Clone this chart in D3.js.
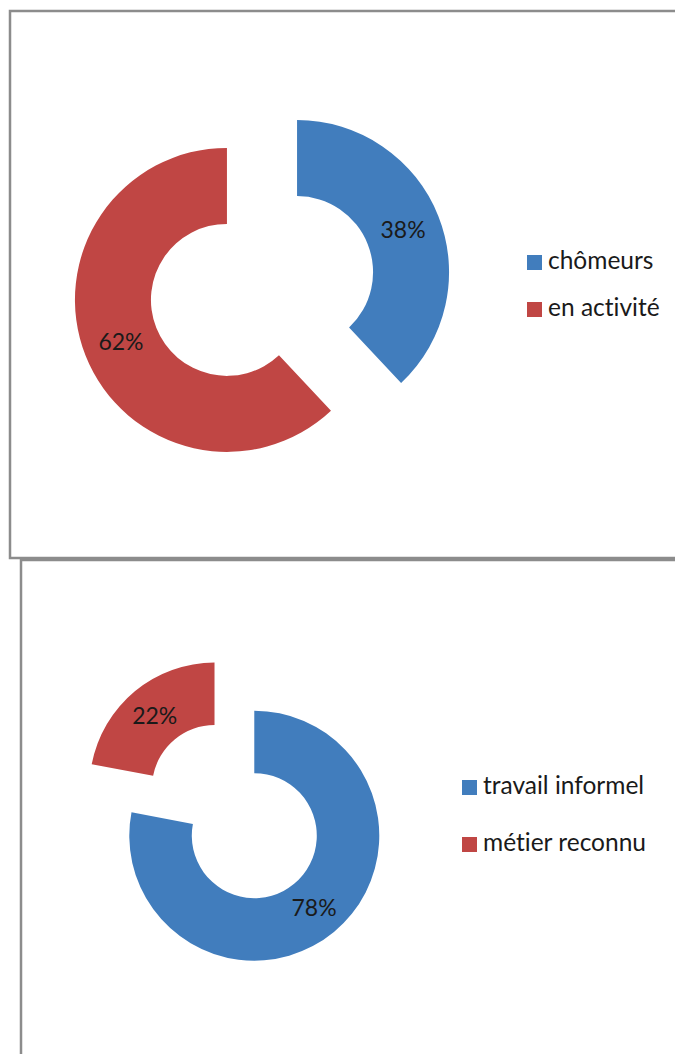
<!DOCTYPE html>
<html>
<head>
<meta charset="utf-8">
<script src="https://cdn.jsdelivr.net/npm/d3@7"></script>
<style>
  body { margin: 0; background: #fff; }
  svg { display: block; }
  text { font-family: Lato, "Open Sans", sans-serif; fill: #1a1a1a; font-variant-ligatures: none; }
</style>
</head>
<body>
<svg id="chart" width="675" height="1054"></svg>
<script>
var chart1Categories = ["chômeurs", "en activité"],
    chart1Values = [38, 62];
var chart2Categories = ["travail informel", "métier reconnu"],
    chart2Values = [78, 22];

const blueColor = "#417dbd",
    redColor = "#c04644",
    borderColor = "#8c8c8c";

var svg = d3.select("#chart");

function drawDonut(box, categories, values) {
    var g = svg.append("g");

    g.append("rect")
        .attr("x", box.x)
        .attr("y", box.y)
        .attr("width", box.w)
        .attr("height", box.h)
        .attr("fill", "#fff")
        .attr("stroke", borderColor)
        .attr("stroke-width", 2.5);

    var color = d3.scaleOrdinal().domain(categories).range([blueColor, redColor]);

    var pie = d3.pie().sort(null).value(function(d) { return d.value; });
    var arc = d3.arc().innerRadius(box.r * 0.5).outerRadius(box.r);

    var data = categories.map(function(c, i) {
        return {name: c, value: values[i]};
    });

    var slices = g.append("g")
        .attr("transform", "translate(" + box.cx + "," + box.cy + ")")
        .selectAll("g")
        .data(pie(data))
        .enter().append("g")
        .attr("transform", function(d) {
            var a = (d.startAngle + d.endAngle) / 2;
            return "translate(" + (Math.sin(a) * box.explode) + "," + (-Math.cos(a) * box.explode) + ")";
        });

    slices.append("path")
        .attr("d", arc)
        .attr("fill", function(d) { return color(d.data.name); });

    slices.append("text")
        .attr("transform", function(d) { return "translate(" + arc.centroid(d) + ")"; })
        .attr("text-anchor", "middle")
        .attr("dy", "0.36em")
        .style("font-size", "23px")
        .text(function(d) { return d.data.value + "%"; });

    var legend = g.append("g")
        .attr("transform", "translate(" + box.lx + "," + box.ly + ")")
        .selectAll("g")
        .data(categories)
        .enter().append("g")
        .attr("transform", function(d, i) { return "translate(0," + (i * box.step) + ")"; });

    legend.append("rect")
        .attr("width", 15)
        .attr("height", 15)
        .attr("fill", function(d) { return color(d); });

    legend.append("text")
        .attr("x", 21)
        .attr("y", 14)
        .style("font-size", "24.5px")
        .text(function(d) { return d; });
}

drawDonut({x: 10, y: 11, w: 720, h: 547, cx: 262, cy: 286, r: 152, explode: 37.7, lx: 527, ly: 255, step: 47},
    chart1Categories, chart1Values);
drawDonut({x: 21, y: 560, w: 720, h: 560, cx: 234.4, cy: 811.6, r: 125, explode: 31.2, lx: 462, ly: 780, step: 57},
    chart2Categories, chart2Values);
</script>
</body>
</html>
